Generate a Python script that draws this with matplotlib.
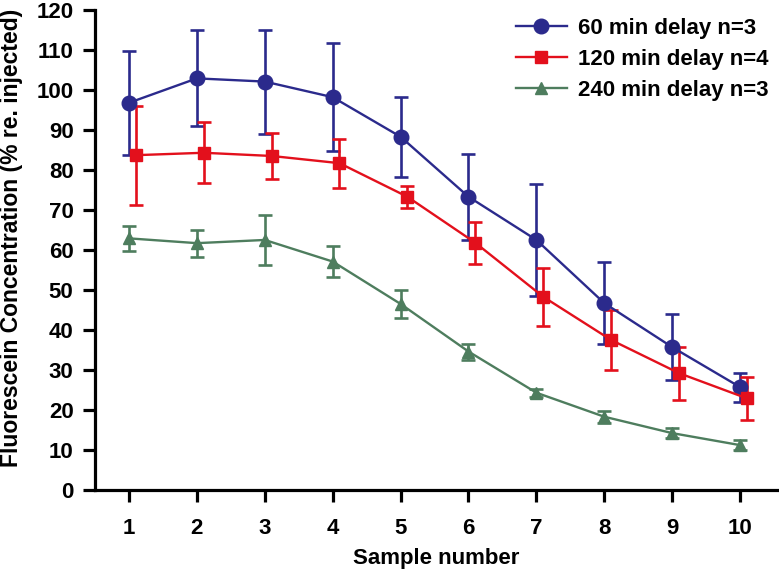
import numpy as np
import matplotlib
matplotlib.use('Agg')
import matplotlib.pyplot as plt

plt.rcParams['font.family'] = ['Liberation Sans', 'DejaVu Sans']
plt.rcParams['font.weight'] = 'bold'

# === data ===
samples = [1, 2, 3, 4, 5, 6, 7, 8, 9, 10]

mean_60 = [96.8, 102.9, 102.1, 98.2, 88.3, 73.3, 62.5, 46.7, 35.7, 25.7]
err_60 = [13.0, 12.0, 13.0, 13.5, 10.0, 10.8, 14.0, 10.3, 8.2, 3.6]

mean_120 = [83.7, 84.3, 83.5, 81.7, 73.3, 61.8, 48.3, 37.5, 29.2, 22.9]
err_120 = [12.4, 7.6, 5.7, 6.1, 2.7, 5.3, 7.3, 7.5, 6.6, 5.4]

mean_240 = [62.9, 61.7, 62.5, 57.1, 46.5, 34.6, 24.3, 18.3, 14.2, 11.2]
err_240 = [3.2, 3.4, 6.3, 3.8, 3.6, 2.0, 1.0, 1.5, 1.3, 1.2]

labels = ['60 min delay n=3', '120 min delay n=4', '240 min delay n=3']
yticks = list(range(0, 121, 10))

# === plot ===
fig = plt.figure(figsize=(7.79, 5.71), dpi=100)
ax = fig.add_axes([0.122, 0.142, 0.876, 0.8405])

x = np.array(samples, dtype=float)
series = [
    (x, mean_60, err_60, '#2b2a8c', 'o', 10.5, labels[0]),
    (x + 0.1, mean_120, err_120, '#e3101c', 's', 9, labels[1]),
    (x, mean_240, err_240, '#4e7d5e', '^', 9, labels[2]),
]
handles = []
for xs, m, e, c, mk, ms, lab in series:
    eb = ax.errorbar(xs, m, yerr=e, color=c, marker=mk, markersize=ms,
                     linewidth=1.7, elinewidth=1.9, capsize=5, capthick=1.9,
                     label=lab)
    handles.append(eb[0])

ax.set_xlim(0.5, 10.55)
ax.set_ylim(0, 120)
ax.set_xticks(samples)
ax.set_yticks(yticks)

for side in ['top', 'right']:
    ax.spines[side].set_visible(False)
for side in ['left', 'bottom']:
    ax.spines[side].set_linewidth(2.3)
ax.tick_params(axis='both', direction='out', length=8.5, width=2.3,
               labelsize=16)
ax.tick_params(axis='y', pad=7)
ax.tick_params(axis='x', pad=12)
for t in ax.get_xticklabels() + ax.get_yticklabels():
    t.set_fontweight('bold')

ax.set_xlabel('Sample number', fontsize=16, fontweight='bold', labelpad=6)
ax.set_ylabel('Fluorescein Concentration (% re. injected)', fontsize=16.5,
              fontweight='bold')
ax.yaxis.set_label_coords(-0.105, 0.525)

leg = ax.legend(handles, labels, loc='upper right', frameon=False,
                fontsize=16, handlelength=2.3, handletextpad=0.5,
                numpoints=1, labelspacing=0.45,
                bbox_to_anchor=(1.016, 1.025))
for t in leg.get_texts():
    t.set_fontweight('bold')

plt.savefig('out.png', dpi=100)
